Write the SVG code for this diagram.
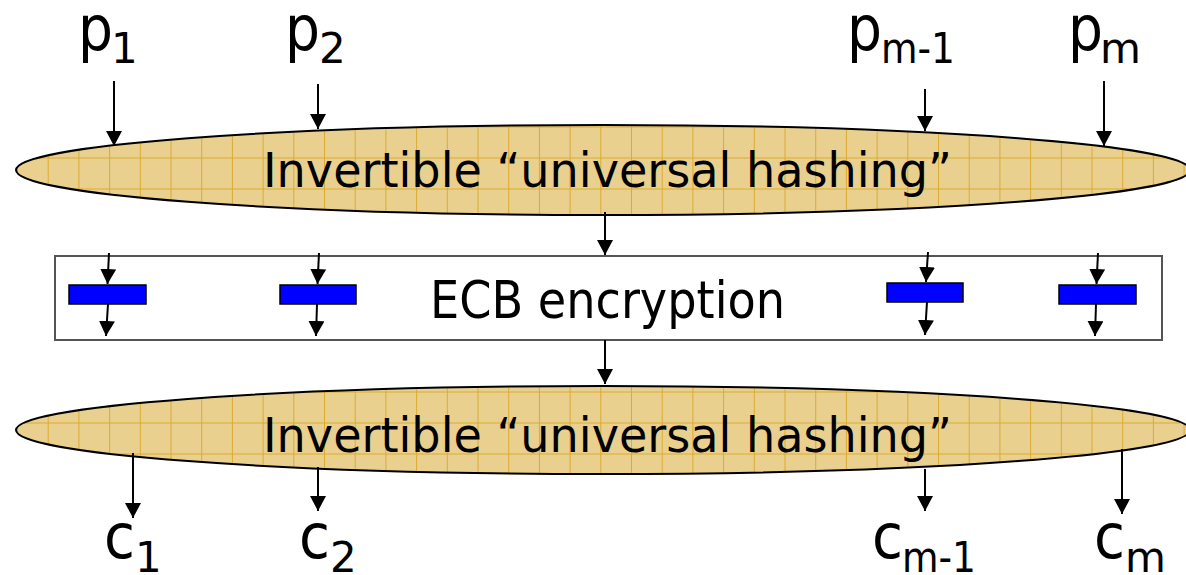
<svg xmlns="http://www.w3.org/2000/svg" width="1186" height="575" viewBox="0 0 1186 575">
<defs>
  <pattern id="gridTop" patternUnits="userSpaceOnUse" x="17" y="2.5" width="30.7" height="31">
    <rect width="30.7" height="31" fill="#E9D08E"/>
    <path d="M0 0.5 H30.7 M0.5 0 V31" stroke="#DCAB30" stroke-width="1" fill="none"/>
  </pattern>
  <pattern id="gridBot" patternUnits="userSpaceOnUse" x="17" y="19.5" width="30.7" height="31">
    <rect width="30.7" height="31" fill="#E9D08E"/>
    <path d="M0 0.5 H30.7 M0.5 0 V31" stroke="#DCAB30" stroke-width="1" fill="none"/>
  </pattern>
  <marker id="ah" markerUnits="userSpaceOnUse" markerWidth="16" markerHeight="16" viewBox="0 0 16 16" refX="15" refY="8" orient="auto">
    <path d="M0 0 L15 8 L0 16 Z" fill="#000"/>
  </marker>
  <style>
    .lbl { font-family: "DejaVu Sans", "Liberation Sans", sans-serif; fill: #000; }
    .big { font-size: 63px; }
    .sub { font-size: 42px; }
    .hash { font-family: "DejaVu Sans", "Liberation Sans", sans-serif; font-size: 48px; fill: #000; }
    .ecbt { font-family: "DejaVu Sans", "Liberation Sans", sans-serif; font-size: 52px; fill: #000; }
    .arr { stroke: #000; stroke-width: 2; fill: none; marker-end: url(#ah); }
    .blk { fill: #0000FF; stroke: #000; stroke-width: 1.5; }
    .ell { stroke: #000; stroke-width: 2; }
  </style>
</defs>

<g id="hash-top">
  <ellipse class="ell" cx="603" cy="170" rx="587" ry="45" fill="url(#gridTop)"/>
  <text class="hash" x="263" y="187" textLength="689" lengthAdjust="spacingAndGlyphs">Invertible “universal hashing”</text>
</g>

<g id="ecb">
  <rect x="55" y="256" width="1107" height="84" fill="#fff" stroke="#555" stroke-width="2"/>
  <text class="ecbt" x="430" y="318" textLength="355" lengthAdjust="spacingAndGlyphs">ECB encryption</text>
  <rect class="blk" x="69" y="285" width="77" height="19"/>
  <rect class="blk" x="280" y="285" width="76" height="19"/>
  <rect class="blk" x="887" y="283" width="76" height="19"/>
  <rect class="blk" x="1059" y="285" width="77" height="19"/>
</g>

<g id="hash-bottom">
  <ellipse class="ell" cx="603" cy="430" rx="587" ry="44" fill="url(#gridBot)"/>
  <text class="hash" x="263" y="452" textLength="689" lengthAdjust="spacingAndGlyphs">Invertible “universal hashing”</text>
</g>

<g id="inputs">
  <text class="lbl big" x="78" y="50" textLength="35" lengthAdjust="spacingAndGlyphs">p</text><text class="lbl sub" x="111" y="63">1</text>
  <text class="lbl big" x="285" y="50" textLength="35" lengthAdjust="spacingAndGlyphs">p</text><text class="lbl sub" x="319" y="63">2</text>
  <text class="lbl big" x="847" y="50" textLength="35" lengthAdjust="spacingAndGlyphs">p</text><text class="lbl sub" x="881" y="63" textLength="74" lengthAdjust="spacingAndGlyphs">m-1</text>
  <text class="lbl big" x="1068" y="50" textLength="35" lengthAdjust="spacingAndGlyphs">p</text><text class="lbl sub" x="1100" y="63">m</text>
</g>

<g id="outputs">
  <text class="lbl big" x="104" y="558" textLength="31" lengthAdjust="spacingAndGlyphs">c</text><text class="lbl sub" x="135" y="572">1</text>
  <text class="lbl big" x="299" y="558" textLength="31" lengthAdjust="spacingAndGlyphs">c</text><text class="lbl sub" x="330" y="572">2</text>
  <text class="lbl big" x="872" y="558" textLength="31" lengthAdjust="spacingAndGlyphs">c</text><text class="lbl sub" x="902" y="572" textLength="74" lengthAdjust="spacingAndGlyphs">m-1</text>
  <text class="lbl big" x="1094" y="558" textLength="31" lengthAdjust="spacingAndGlyphs">c</text><text class="lbl sub" x="1125" y="572">m</text>
</g>

<g id="connectors">
  <line class="arr" x1="114" y1="81" x2="114" y2="146"/>
  <line class="arr" x1="318" y1="84" x2="318" y2="129"/>
  <line class="arr" x1="925" y1="89" x2="925" y2="131"/>
  <line class="arr" x1="1104" y1="81" x2="1104" y2="146"/>
  <line class="arr" x1="605" y1="212" x2="605" y2="255"/>
  <line class="arr" x1="605" y1="340" x2="605" y2="384"/>
  <line class="arr" x1="133" y1="453" x2="133" y2="518"/>
  <line class="arr" x1="318" y1="467" x2="318" y2="511"/>
  <line class="arr" x1="925" y1="469" x2="925" y2="511"/>
  <line class="arr" x1="1122" y1="449" x2="1122" y2="514"/>
  <line class="arr" x1="109" y1="253" x2="107.5" y2="284"/>
  <line class="arr" x1="108" y1="304" x2="106" y2="336"/>
  <line class="arr" x1="319" y1="253" x2="317.5" y2="284"/>
  <line class="arr" x1="317" y1="304" x2="316" y2="336"/>
  <line class="arr" x1="928" y1="252" x2="926" y2="282"/>
  <line class="arr" x1="927" y1="302" x2="925" y2="335"/>
  <line class="arr" x1="1098" y1="253" x2="1096.5" y2="284"/>
  <line class="arr" x1="1096" y1="304" x2="1095" y2="336"/>
</g>
</svg>
